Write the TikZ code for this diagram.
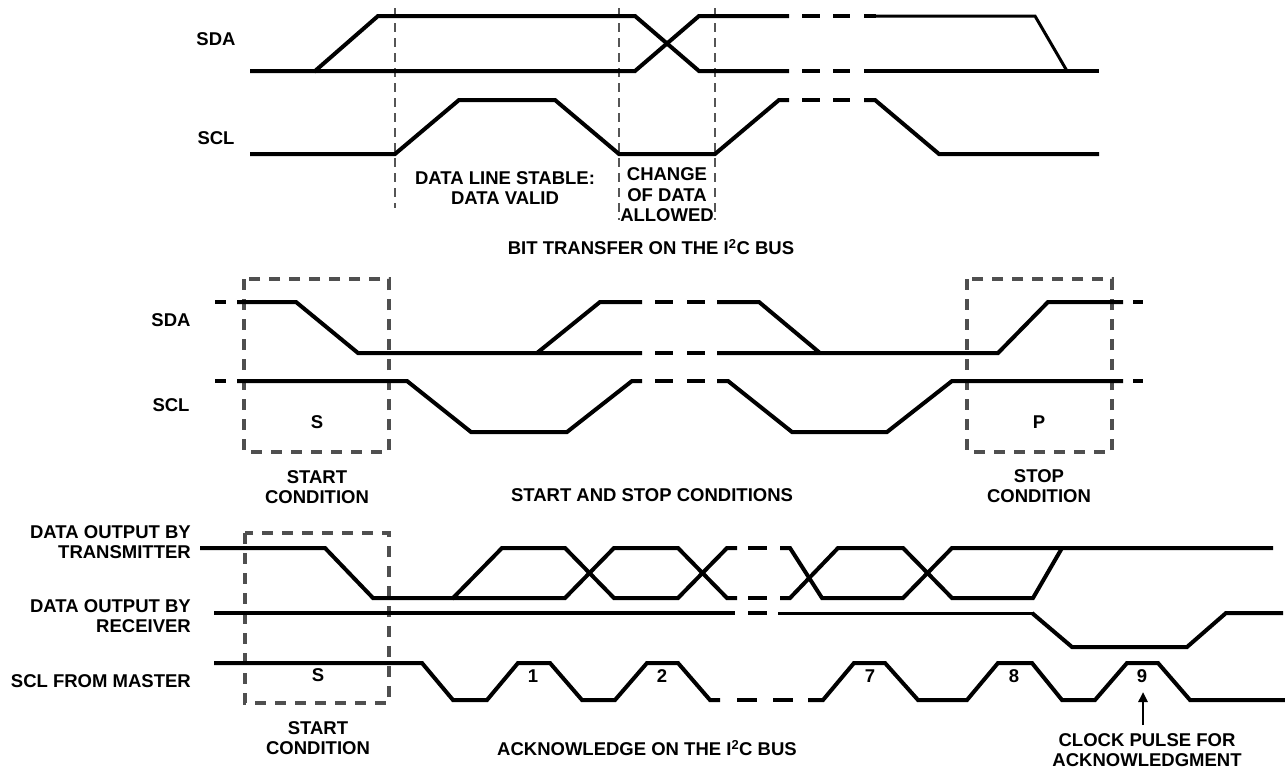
\documentclass[tikz,border=0pt]{standalone}
\usepackage{fontspec}
\setmainfont{Liberation Sans}
\usetikzlibrary{arrows.meta}
\definecolor{boxgray}{HTML}{4F4F4F}
\definecolor{vgray}{HTML}{555555}
\begin{document}
\begin{tikzpicture}[x=1pt,y=-1pt,
  sig/.style={line width=4pt, line join=miter},
  thinsig/.style={line width=3pt, line join=miter},
  gbox/.style={draw=boxgray, line width=4pt, dash pattern=on 11pt off 9pt},
  vdash/.style={draw=vgray, line width=1.4pt, dash pattern=on 9pt off 6pt},
  lbl/.style={font=\bfseries\fontsize{18.5}{20.5}\selectfont, inner sep=0pt, align=center},
  rlbl/.style={lbl, align=right, anchor=east},
  arr/.style={line width=2.5pt, -{Triangle[width=9pt,length=10pt]}}
]
\useasboundingbox (0,0) rectangle (1285,771);

%% ===================== BIT TRANSFER =====================
\node[lbl] (tsda) at (216,39) {SDA};
\node[lbl] (tscl) at (216,138) {SCL};
% dashed verticals
\draw[vdash] (395,8) -- (395,208);
\draw[vdash] (619,8) -- (619,220);
\draw[vdash] (715,8) -- (715,220);
% SDA
\draw[sig] (250,71) -- (315,71) -- (378,16) -- (635,16) -- (699,71) -- (789,71);
\draw[sig] (315,71) -- (635,71) -- (699,16) -- (789,16);
\foreach \a/\b in {802/820,833/850}{
  \draw[sig] (\a,16) -- (\b,16);
  \draw[sig] (\a,71) -- (\b,71);
  \draw[sig] (\a,100) -- (\b,100);
}
\draw[sig] (864,16) -- (876,16);
\draw[thinsig] (875,16) -- (1035,16) -- (1067,71);
\draw[sig] (864,71) -- (1099,71);
% SCL
\draw[sig] (250,154) -- (395,154) -- (459,100) -- (555,100) -- (619,154) -- (715,154) -- (779,100) -- (789,100);
\draw[sig] (864,100) -- (875,100) -- (939,154) -- (1099,154);
% texts
\node[lbl] (stable) at (505,188) {DATA LINE STABLE:\\DATA VALID};
\node[lbl] (change) at (667,195) {CHANGE\\OF DATA\\ALLOWED};
\node[lbl] (title1) at (651,247) {BIT TRANSFER ON THE I\textsuperscript{2}C BUS};

%% ===================== START AND STOP =====================
\node[lbl] (msda) at (171,320) {SDA};
\node[lbl] (mscl) at (171,405) {SCL};
\draw[gbox] (244,279) rectangle (389,452);
\draw[gbox] (967,279) rectangle (1112,452);
% SDA
\draw[sig] (215,302) -- (226,302);
\draw[sig] (237,302) -- (296,302) -- (358,353) -- (642,353);
\draw[sig] (537,353) -- (600,302) -- (642,302);
\foreach \a/\b in {655/673,687/705}{
  \draw[sig] (\a,302) -- (\b,302);
  \draw[sig] (\a,353) -- (\b,353);
  \draw[sig] (\a,381) -- (\b,381);
}
\draw[sig] (717,302) -- (759,302) -- (820,353);
\draw[sig] (717,353) -- (998,353) -- (1048,302) -- (1123,302);
\draw[sig] (1133,302) -- (1143,302);
% SCL
\draw[sig] (215,381) -- (226,381);
\draw[sig] (237,381) -- (407,381) -- (471,432) -- (567,432) -- (632,381) -- (642,381);
\draw[sig] (717,381) -- (728,381) -- (792,432) -- (887,432) -- (952,381) -- (1123,381);
\draw[sig] (1133,381) -- (1143,381);
% texts
\node[lbl] (ms) at (317,422) {S};
\node[lbl] (mp) at (1039,422) {P};
\node[lbl] (mstart) at (317,487) {START\\CONDITION};
\node[lbl] (mstop) at (1039,486) {STOP\\CONDITION};
\node[lbl] (title2) at (652,495) {START AND STOP CONDITIONS};

%% ===================== ACKNOWLEDGE =====================
\node[rlbl] (ltx) at (191,542) {DATA OUTPUT BY\\TRANSMITTER};
\node[rlbl] (lrx) at (191,616) {DATA OUTPUT BY\\RECEIVER};
\node[rlbl] (lsc) at (191,681) {SCL FROM MASTER};
\draw[gbox] (245,533) rectangle (389,703);
% transmitter
\draw[sig] (200,548) -- (325,548) -- (373,598) -- (453,598) -- (502,548) -- (565,548) -- (614,598) -- (678,598) -- (727,548) -- (737,548);
\draw[sig] (453,598) -- (565,598) -- (614,548) -- (678,548) -- (727,598) -- (737,598);
\draw[sig] (748,548) -- (767,548);
\draw[sig] (748,598) -- (767,598);
\draw[sig] (780,548) -- (790,548) -- (822,598) -- (903,598) -- (952,548) -- (1273,548);
\draw[sig] (780,598) -- (790,598) -- (838,548) -- (903,548) -- (952,598) -- (1033,598) -- (1062,548);
% receiver
\draw[sig] (214,613) -- (735,613);
\draw[sig] (748,613) -- (767,613);
\draw[thinsig] (778,613) -- (1033,613);
\draw[sig] (1032,613) -- (1072,647) -- (1187,647) -- (1226,613) -- (1283,613);
% SCL from master
\draw[sig] (214,663) -- (422,663) -- (453,700) -- (487,700) -- (518,663) -- (550,663) -- (582,700) -- (615,700) -- (647,663) -- (678,663) -- (710,700) -- (720,700);
\draw[sig] (737,700) -- (757,700);
\draw[sig] (773,700) -- (793,700);
\draw[sig] (808,700) -- (823,700) -- (854,663) -- (885,663) -- (918,700) -- (967,700) -- (998,663) -- (1032,663) -- (1062,700) -- (1095,700) -- (1127,663) -- (1158,663) -- (1190,700) -- (1285,700);
% texts
\node[lbl] (bs) at (318,675) {S};
\node[lbl] (n1) at (533,676) {1};
\node[lbl] (n2) at (662,676) {2};
\node[lbl] (n7) at (870,676) {7};
\node[lbl] (n8) at (1014,676) {8};
\node[lbl] (n9) at (1142,676) {9};
\node[lbl] (bstart) at (318,738) {START\\CONDITION};
\node[lbl] (title3) at (647,748) {ACKNOWLEDGE ON THE I\textsuperscript{2}C BUS};
\node[lbl] (clk) at (1147,750) {CLOCK PULSE FOR\\ACKNOWLEDGMENT};
\coordinate (ack9) at (1143,692);
\draw[arr] ([yshift=8pt]clk.north -| ack9) -- (ack9);
\end{tikzpicture}
\end{document}
